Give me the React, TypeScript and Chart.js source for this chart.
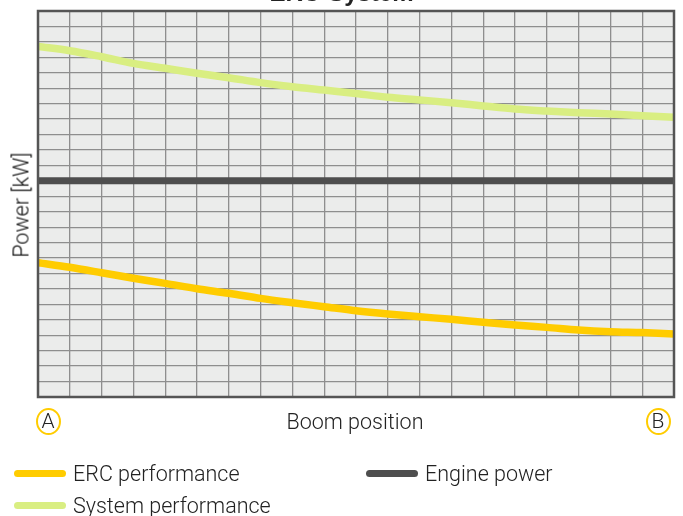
import React, { useEffect, useRef } from "react";
import { Chart, registerables } from "chart.js";

Chart.register(...registerables);

const chartTitle = "ERC-System";
const yAxisTitle = "Power [kW]";
const xAxisTitle = "Boom position";
const startLabel = "A";
const endLabel = "B";

const boomPositions = [0, 1, 2, 3, 4, 5, 6, 7, 8, 9, 10, 11, 12, 13, 14, 15, 16, 17, 18, 19, 20];
const systemPerformance = [22.7, 22.43, 22.04, 21.61, 21.29, 20.97, 20.68, 20.36, 20.1, 19.88, 19.66, 19.41, 19.24, 19.06, 18.85, 18.65, 18.52, 18.41, 18.33, 18.22, 18.12];
const ercPerformance = [8.7, 8.4, 8.05, 7.69, 7.36, 7.01, 6.72, 6.39, 6.11, 5.85, 5.59, 5.38, 5.2, 5.03, 4.84, 4.66, 4.51, 4.34, 4.23, 4.17, 4.08];
const enginePower = [14, 14, 14, 14, 14, 14, 14, 14, 14, 14, 14, 14, 14, 14, 14, 14, 14, 14, 14, 14, 14];

const seriesNames = ["ERC performance", "Engine power", "System performance"];
const seriesColors = ["#ffcc00", "#4e4e4e", "#d9ee82"];

const FONT = "Roboto, 'Liberation Sans', sans-serif";

const plotBg = {
  id: "plotBg",
  beforeDraw(chart: any) {
    const { ctx, chartArea: a } = chart;
    ctx.save();
    ctx.fillStyle = "#ebeceb";
    ctx.fillRect(a.left, a.top, a.right - a.left, a.bottom - a.top);
    ctx.restore();
  },
  afterDraw(chart: any) {
    const { ctx, chartArea: a } = chart;
    ctx.save();
    ctx.strokeStyle = "#555555";
    ctx.lineWidth = 2.5;
    ctx.strokeRect(a.left, a.top, a.right - a.left, a.bottom - a.top);
    ctx.restore();
  },
};

export default function App() {
  const ref = useRef<HTMLCanvasElement>(null);
  useEffect(() => {
    if (!ref.current) return;
    const mk = (vals: number[]) => boomPositions.map((x, i) => ({ x, y: vals[i] }));
    const chart = new Chart(ref.current, {
      type: "line",
      data: {
        datasets: [
          { label: seriesNames[2], data: mk(systemPerformance), borderColor: seriesColors[2], borderWidth: 7.5, pointRadius: 0, cubicInterpolationMode: "monotone", borderCapStyle: "butt" },
          { label: seriesNames[1], data: mk(enginePower), borderColor: seriesColors[1], borderWidth: 7, pointRadius: 0, borderCapStyle: "butt" },
          { label: seriesNames[0], data: mk(ercPerformance), borderColor: seriesColors[0], borderWidth: 7.5, pointRadius: 0, cubicInterpolationMode: "monotone", borderCapStyle: "butt" },
        ],
      },
      options: {
        responsive: false,
        animation: false,
        devicePixelRatio: 1,
        layout: { padding: { left: 38, top: 11, right: 9, bottom: 119 } },
        plugins: { legend: { display: false }, title: { display: false }, tooltip: { enabled: false } },
        scales: {
          x: {
            type: "linear",
            min: 0,
            max: 20,
            ticks: { display: false, stepSize: 1 },
            grid: { color: "#8e8e8e", lineWidth: 1.3, drawTicks: false },
            border: { display: false },
          },
          y: {
            min: 0,
            max: 25,
            ticks: { display: false, stepSize: 1 },
            grid: { color: "#8e8e8e", lineWidth: 1.3, drawTicks: false },
            border: { display: false },
          },
        },
      },
      plugins: [plotBg],
    });
    return () => chart.destroy();
  }, []);

  const circle = (cx: number, label: string) => (
    <div
      style={{
        position: "absolute",
        left: cx - 12.5,
        top: 408,
        width: 21,
        height: 23,
        border: "2.5px solid #ffcc00",
        borderRadius: "50%",
        display: "flex",
        alignItems: "center",
        justifyContent: "center",
        fontFamily: FONT,
        fontWeight: 300,
        fontSize: 21,
        color: "#222",
        lineHeight: 1,
      }}
    >
      {label}
    </div>
  );

  const legendItem = (x: number, y: number, idx: number) => (
    <div style={{ position: "absolute", left: x, top: y - 12, height: 24, display: "flex", alignItems: "center" }}>
      <div style={{ width: 52, height: 7, borderRadius: 4, background: seriesColors[idx], marginRight: 7 }} />
      <span style={{ fontFamily: FONT, fontWeight: 300, fontSize: 21.5, color: "#222", whiteSpace: "nowrap" }}>{seriesNames[idx]}</span>
    </div>
  );

  return (
    <div style={{ position: "absolute", left: 0, top: 0, width: 683, height: 516, overflow: "hidden", background: "#fff" }}>
      <canvas ref={ref} width={683} height={516} style={{ position: "absolute", left: 0, top: 0 }} />
      <div style={{ position: "absolute", left: 0, width: 683, top: -19, textAlign: "center", fontFamily: "'Liberation Sans', Arial, sans-serif", fontWeight: 700, fontSize: 24, lineHeight: "24px", color: "#222" }}>
        {chartTitle}
      </div>
      <div
        style={{
          position: "absolute",
          left: 21,
          top: 205,
          transform: "translate(-50%, -50%) rotate(-90deg)",
          fontFamily: FONT,
          fontWeight: 300,
          fontSize: 21.5,
          color: "#111",
          whiteSpace: "nowrap",
        }}
      >
        {yAxisTitle}
      </div>
      <div style={{ position: "absolute", left: 205, width: 300, top: 409, textAlign: "center", fontFamily: FONT, fontWeight: 300, fontSize: 21.5, color: "#222" }}>
        {xAxisTitle}
      </div>
      {circle(48, startLabel)}
      {circle(658, endLabel)}
      {legendItem(14, 473, 0)}
      {legendItem(366, 473, 1)}
      {legendItem(14, 505, 2)}
    </div>
  );
}
